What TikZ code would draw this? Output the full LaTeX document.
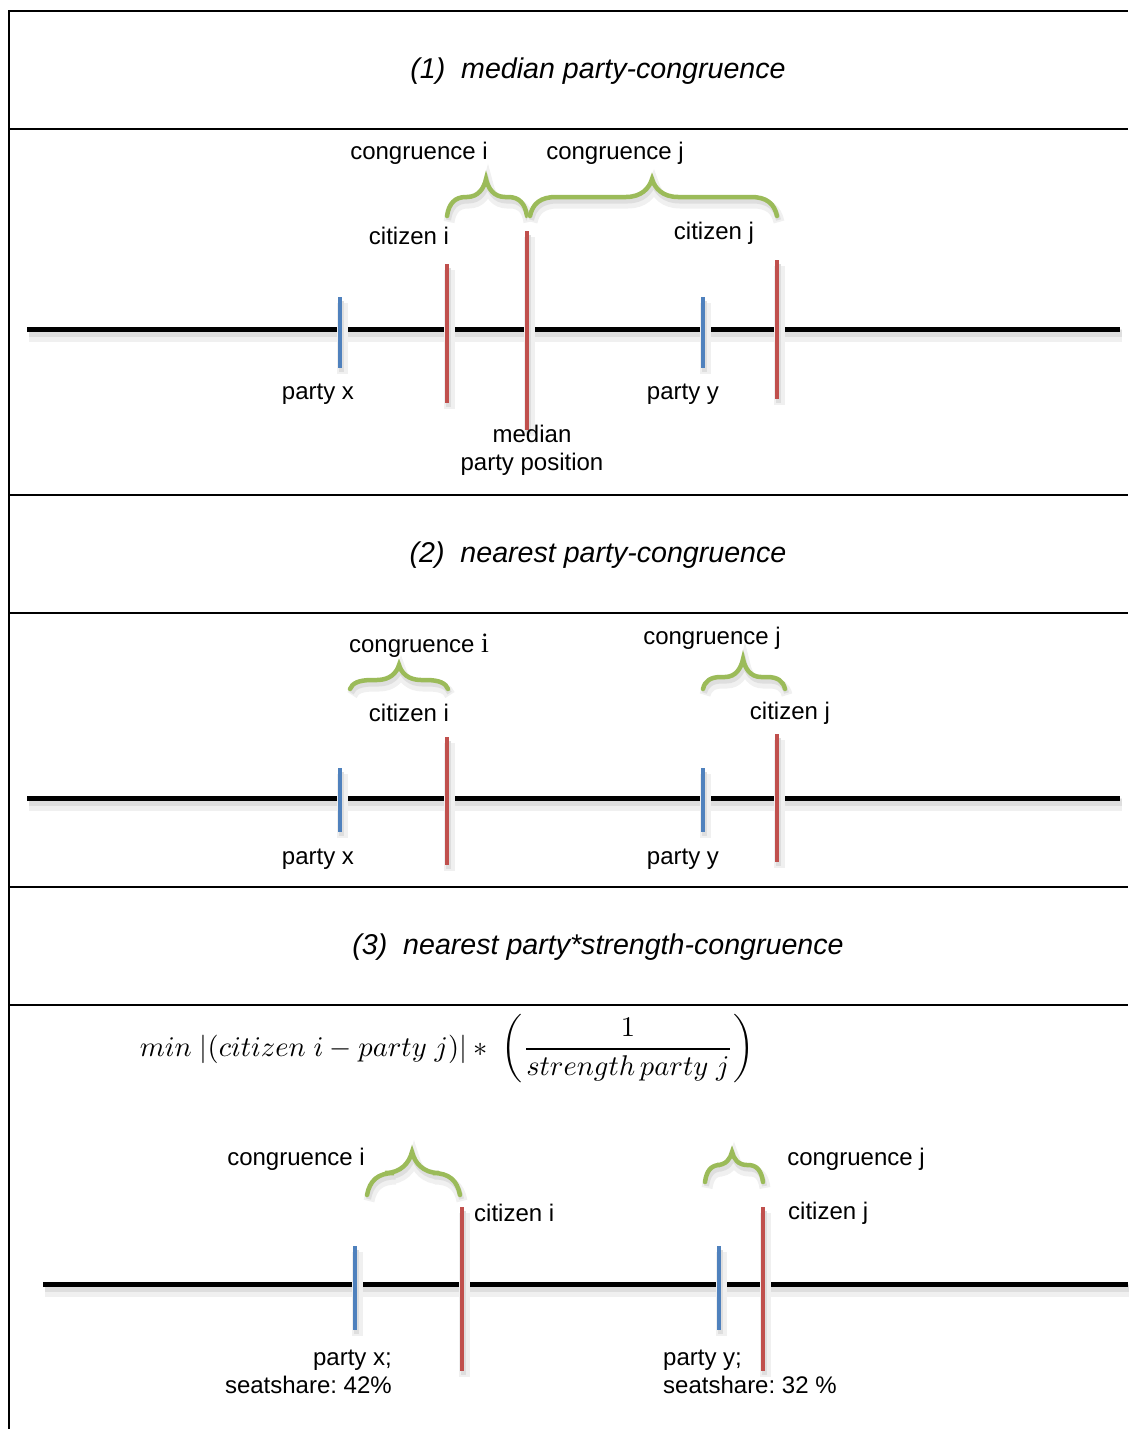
\documentclass[tikz,border=0pt]{standalone}
\usepackage{fix-cm}
\usepackage{graphicx}
\usepackage{fontspec}
\setmainfont{Liberation Sans}
\newfontfamily\serifi{Liberation Serif}
\frenchspacing
\definecolor{tickblue}{HTML}{4F81BD}
\definecolor{tickred}{HTML}{C0504D}
\definecolor{bracegreen}{HTML}{9BBB59}
\newcommand\cbrace[7]{%
  \draw[gbrace] (#1,#4) .. controls ({#1+0.1*#7},{#5+0.35*(#4-#5)}) and ({#1+0.4*#7},#5) .. ({#1+#7},#5)
    -- ({#3-#7},#5) .. controls ({#3-0.4*#7},#5) and ({#3-0.1*#7},{#5-0.5*(#5-#6)}) .. (#3,#6)
    .. controls ({#3+0.1*#7},{#5-0.5*(#5-#6)}) and ({#3+0.4*#7},#5) .. ({#3+#7},#5)
    -- ({#2-#7},#5) .. controls ({#2-0.4*#7},#5) and ({#2-0.1*#7},{#5+0.35*(#4-#5)}) .. (#2,#4);}
\begin{document}
\begin{tikzpicture}[x=1pt,y=-1pt,
  frame/.style={line width=2pt},
  shadowed/.style={preaction={draw=black!6,line width=#1+8pt,transform canvas={shift={(2pt,-6pt)}}},
                   preaction={draw=black!13,line width=#1+2pt,transform canvas={shift={(1.5pt,-4pt)}}}},
  axisline/.style={line width=5pt,shadowed=5pt},
  bluetick/.style={draw=tickblue,line width=4pt,shadowed=3pt},
  redtick/.style={draw=tickred,line width=4pt,shadowed=3pt},
  gbrace/.style={draw=bracegreen,line width=4.5pt,line cap=round,shadowed=3pt},
  title/.style={font=\fontsize{28.6}{32}\selectfont\itshape,inner sep=0pt,yshift=-3pt},
  lbl/.style={font=\fontsize{24}{28}\selectfont,inner sep=0pt,align=center,yshift=-2pt}]
\useasboundingbox (0,0) rectangle (1128,1429);
% frame
\draw[frame] (9,1429) -- (9,11) -- (1128,11);
\foreach \yy in {129,495,613,887,1005} \draw[frame] (9,\yy) -- (1128,\yy);
% titles
\node[title] (t1) at (598,68) {(1)\ \ median party-congruence};
\node[title] (t2) at (598,552) {(2)\ \ nearest party-congruence};
\node[title] (t3) at (598,944) {(3)\ \ nearest party*strength-congruence};
% ---------- section 1
\draw[axisline] (27,329) -- (1120,329);
\draw[bluetick] (340,297) -- (340,368);
\draw[redtick] (447,264) -- (447,403);
\draw[redtick] (527,231) -- (527,430);
\draw[bluetick] (703,297) -- (703,368);
\draw[redtick] (777,260) -- (777,399);
\cbrace{447}{527}{486}{216}{197}{179}{19}
\cbrace{530}{777}{652}{216}{197}{179}{26}
\node[lbl] (c1i) at (419,151) {congruence i};
\node[lbl] (c1j) at (615,151) {congruence j};
\node[lbl] (z1i) at (409,234) {citizen i};
\node[lbl] (z1j) at (714,231) {citizen j};
\node[lbl] (p1x) at (318,392) {party x};
\node[lbl] (p1y) at (683,392) {party y};
\node[lbl] (med) at (532,448) {median\\party position};
% ---------- section 2
\draw[axisline] (27,798) -- (1120,798);
\draw[bluetick] (340,768) -- (340,832);
\draw[redtick] (447,737) -- (447,865);
\draw[bluetick] (703,768) -- (703,832);
\draw[redtick] (777,734) -- (777,862);
\cbrace{350}{448}{399}{689}{680}{665}{22}
\cbrace{703}{785}{743}{689}{677}{659}{18}
\node[lbl] (c2i) at (419,644) {congruence {\serifi\fontsize{28}{30}\selectfont i}};
\node[lbl] (c2j) at (712,636) {congruence j};
\node[lbl] (z2i) at (409,711) {citizen i};
\node[lbl] (z2j) at (790,711) {citizen j};
\node[lbl] (p2x) at (318,857) {party x};
\node[lbl] (p2y) at (683,857) {party y};
% ---------- section 3
\node[inner sep=0pt] (form) at (447,1049)
  {\scalebox{2.85}{$min\ |(citizen\ i - party\ j)| \ast\ \left(\displaystyle\frac{1}{strength\, party\ j}\right)$}};
\draw[axisline] (43,1284) -- (1128,1284);
\draw[bluetick] (355,1246) -- (355,1330);
\draw[redtick] (462,1207) -- (462,1371);
\draw[bluetick] (719,1246) -- (719,1330);
\draw[redtick] (763,1207) -- (763,1371);
\cbrace{367}{460}{412}{1195}{1173}{1152}{27}
\cbrace{705}{763}{732}{1182}{1165}{1152}{15}
\node[lbl] (c3i) at (296,1157) {congruence i};
\node[lbl] (c3j) at (856,1157) {congruence j};
\node[lbl,anchor=west] (z3i) at (474,1211) {citizen i};
\node[lbl,anchor=west] (z3j) at (788,1211) {citizen j};
\node[lbl,align=right,anchor=east] (p3x) at (392,1370) {party x;\\seatshare: 42\%};
\node[lbl,align=left,anchor=west] (p3y) at (663,1370) {party y;\\seatshare: 32 \%};
\end{tikzpicture}
\end{document}
